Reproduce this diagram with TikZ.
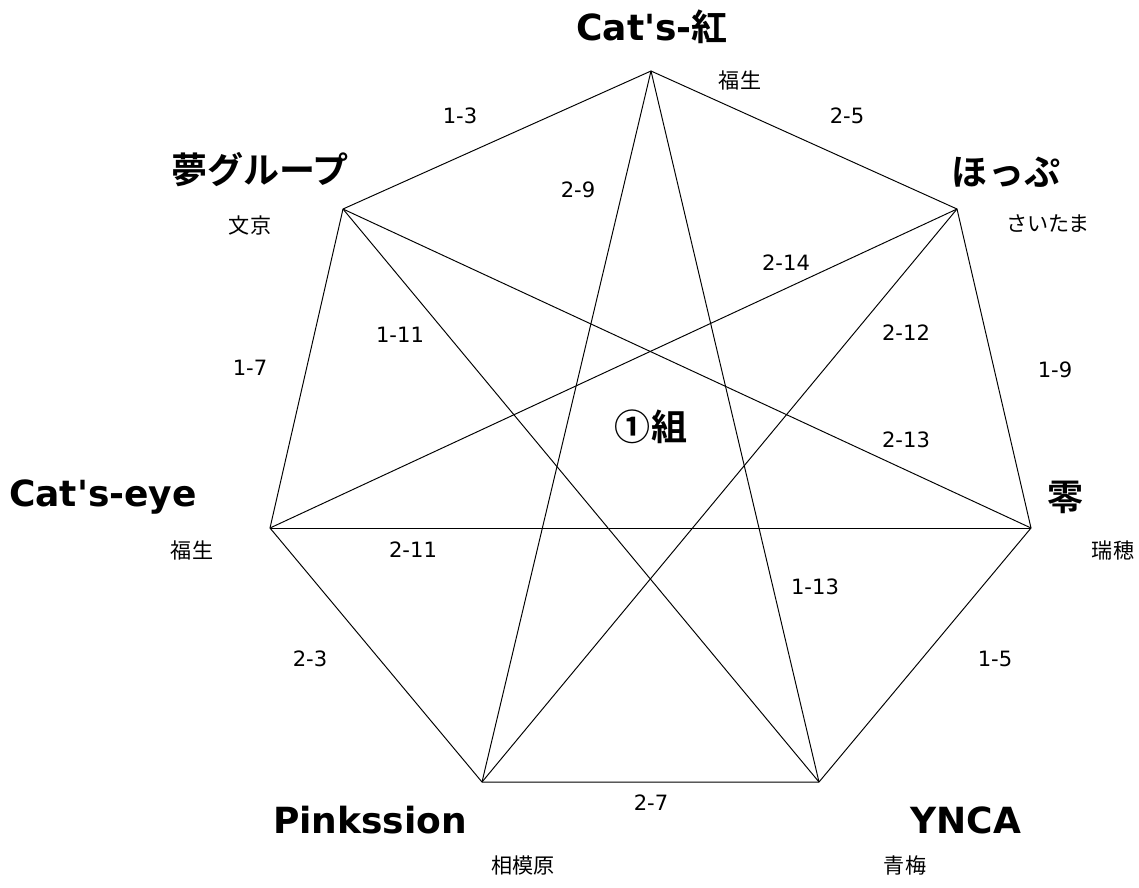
\documentclass[tikz,border=0pt]{standalone}
\usepackage{fontspec}
\setmainfont{DejaVu Sans}
\newfontfamily\jpfont{Noto Sans CJK JP}[BoldFont={Noto Sans CJK JP Bold}]
\tikzset{
  team/.style={font=\fontsize{20.5}{22}\selectfont\bfseries},
  town/.style={font=\jpfont\fontsize{12}{14}\selectfont},
  match/.style={font=\fontsize{12}{14}\selectfont},
  line/.style={line width=0.55pt},
}

\begin{document}
\begin{tikzpicture}[x=0.02cm,y=-0.02cm]
  \useasboundingbox (0,0) rectangle (1139,887);

  %teams on the corners
  \coordinate (beni) at (651,71);
  \coordinate (hop) at (957,209);
  \coordinate (rei) at (1031,528);
  \coordinate (ynca) at (819,782);
  \coordinate (pink) at (482,782);
  \coordinate (eye) at (270,528);
  \coordinate (yume) at (343,209);

  %outer ring
  \draw[line] (beni) -- (hop) -- (rei) -- (ynca) -- (pink) -- (eye) -- (yume) -- cycle;
  %star
  \draw[line] (beni) -- (pink);
  \draw[line] (beni) -- (ynca);
  \draw[line] (yume) -- (rei);
  \draw[line] (yume) -- (ynca);
  \draw[line] (hop) -- (eye);
  \draw[line] (hop) -- (pink);
  \draw[line] (eye) -- (rei);

  %names
  \node[team] (tbeni) at (652,27) {Cat\textquotesingle s-{\jpfont 紅}};
  \node[team] (thop) at (1006,172) {\jpfont ほっぷ};
  \node[team] (trei) at (1065,497) {\jpfont 零};
  \node[team] (tynca) at (966,820) {YNCA};
  \node[team] (tpink) at (370,820) {Pinkssion};
  \node[team] (teye) at (103,497) {Cat\textquotesingle s-eye};
  \node[team] (tyume) at (260,170) {\jpfont 夢グループ};
  \node[team] (tgroup) at (651,427) {\jpfont ①組};

  %home towns
  \node[town] (hbeni) at (740,80) {福生};
  \node[town] (hhop) at (1048,224) {さいたま};
  \node[town] (hrei) at (1113,550) {瑞穂};
  \node[town] (hynca) at (905,865) {青梅};
  \node[town] (hpink) at (523,865) {相模原};
  \node[town] (heye) at (192,550) {福生};
  \node[town] (hyume) at (250,225) {文京};

  %match numbers
  \node[match] (m13) at (460,116) {1-3};
  \node[match] (m25) at (847,116) {2-5};
  \node[match] (m29) at (578,190) {2-9};
  \node[match] (m214) at (786,263) {2-14};
  \node[match] (m111) at (400,335) {1-11};
  \node[match] (m212) at (906,333) {2-12};
  \node[match] (m17) at (250,368) {1-7};
  \node[match] (m19) at (1055,370) {1-9};
  \node[match] (m213) at (906,440) {2-13};
  \node[match] (m211) at (413,550) {2-11};
  \node[match] (m113) at (815,587) {1-13};
  \node[match] (m23) at (310,659) {2-3};
  \node[match] (m15) at (995,659) {1-5};
  \node[match] (m27) at (651,803) {2-7};
\end{tikzpicture}
\end{document}
